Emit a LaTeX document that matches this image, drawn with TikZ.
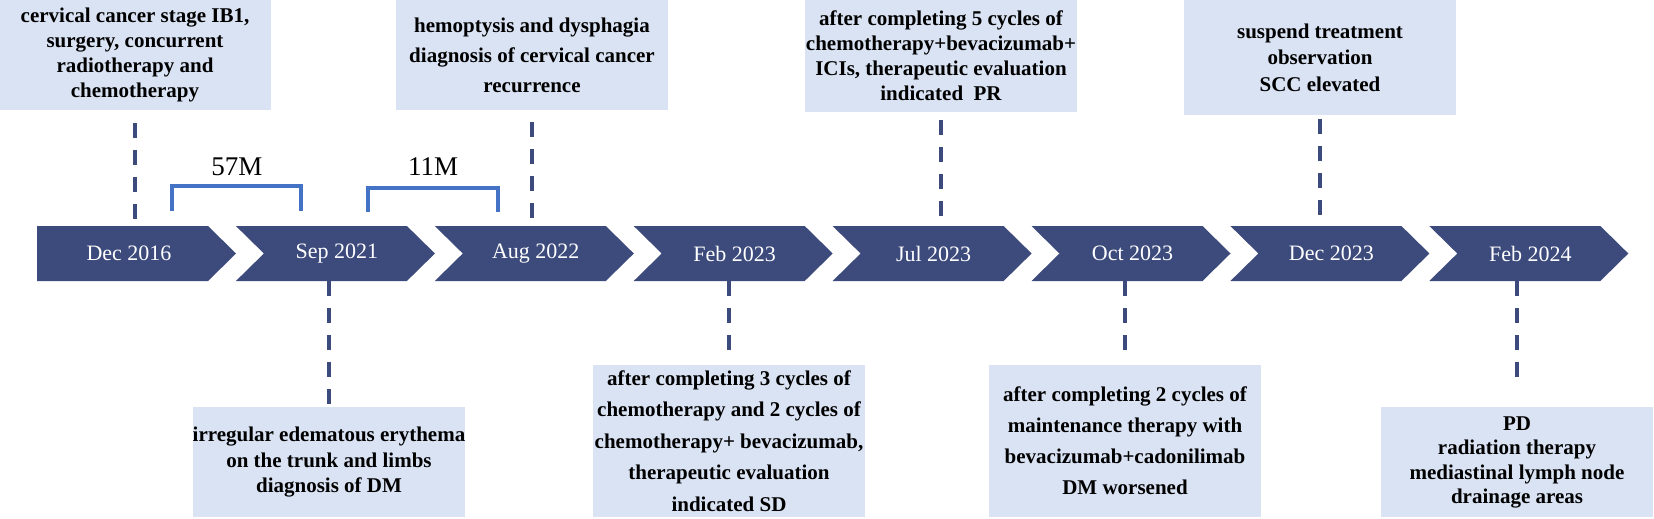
\documentclass[tikz,border=0pt]{standalone}
\usepackage{fontspec}
\setmainfont{Liberation Serif}
\definecolor{navy}{HTML}{3C4A7C}
\definecolor{boxblue}{HTML}{DAE3F3}
\definecolor{brk}{HTML}{4472C4}
\begin{document}
\begin{tikzpicture}[x=1pt,y=-1pt,
  evbox/.style={fill=boxblue, draw=none, minimum width=272pt, inner sep=0pt, align=center,
    font=\bfseries\fontsize{21}{#1}\selectfont, anchor=north},
  datelabel/.style={text=white, font=\fontsize{22}{26}\selectfont, minimum height=55pt, inner sep=0pt},
  dashline/.style={draw=navy, line width=4pt, dash pattern=on 15pt off 12pt},
  bracketline/.style={draw=brk, line width=4pt},
  gaplabel/.style={font=\fontsize{27}{30}\selectfont, inner sep=0pt}]
\useasboundingbox (0,0) rectangle (1654,519);

% timeline chevrons
\foreach \i/\d in
  {0/Dec 2016,1/Sep 2021,2/Aug 2022,3/Feb 2023,4/Jul 2023,5/Oct 2023,6/Dec 2023,7/Feb 2024}{
  \pgfmathsetmacro{\L}{37+198.9*\i}
  \ifnum\i=0
    \pgfmathsetmacro{\tx}{\L+92}
    \fill[navy] (\L,226) -- ++(171,0) -- ++(28,27.5) -- ++(-28,27.5) -- ++(-171,0) -- cycle;
  \else
    \pgfmathsetmacro{\tx}{\L+101}
    \fill[navy] (\L,226) -- ++(171,0) -- ++(28,27.5) -- ++(-28,27.5) -- ++(-171,0) -- ++(28,-27.5) -- cycle;
  \fi
  \node[datelabel] (c\i) at (\tx,253.5) {\d};
}

% event boxes (top)
\node[evbox=25, minimum height=110pt] (b1) at (135,0)
  {cervical cancer stage IB1,\\surgery, concurrent\\radiotherapy and\\chemotherapy};
\node[evbox=30, minimum height=110pt] (b2) at (532,0)
  {hemoptysis and dysphagia\\diagnosis of cervical cancer\\recurrence};
\node[evbox=25, minimum height=112pt] (b3) at (941,0)
  {after completing 5 cycles of\\chemotherapy+bevacizumab+\\ICIs, therapeutic evaluation\\indicated\ \ PR};
\node[evbox=26.5, minimum height=115pt] (b4) at (1320,0)
  {suspend treatment\\observation\\SCC elevated};

% event boxes (bottom)
\node[evbox=25.5, minimum height=110pt] (b5) at (329,407)
  {irregular edematous erythema\\on the trunk and limbs\\diagnosis of DM};
\node[evbox=31.5, minimum height=152pt] (b6) at (729,365)
  {after completing 3 cycles of\\chemotherapy and 2 cycles of\\chemotherapy+ bevacizumab,\\therapeutic evaluation\\indicated SD};
\node[evbox=31, minimum height=152pt] (b7) at (1125,365)
  {after completing 2 cycles of\\maintenance therapy with\\bevacizumab+cadonilimab\\DM worsened};
\node[evbox=24.5, minimum height=110pt] (b8) at (1517,407)
  {PD\\radiation therapy\\mediastinal lymph node\\drainage areas};

% dashed connectors
\draw[dashline] ([yshift=-13pt]b1.south) -- (b1.south |- c0.north);
\draw[dashline] ([yshift=-12pt]b2.south) -- (b2.south |- c2.north);
\draw[dashline] ([yshift=-8pt]b3.south) -- (b3.south |- c4.north);
\draw[dashline] ([yshift=-4pt]b4.south) -- (b4.south |- c6.north);
\draw[dashline] (b5.north |- c1.south) -- ([yshift=2pt]b5.north);
\draw[dashline] (b6.north |- c3.south) -- ([yshift=6pt]b6.north);
\draw[dashline] (b7.north |- c5.south) -- ([yshift=6pt]b7.north);
\draw[dashline] (b8.north |- c7.south) -- ([yshift=18pt]b8.north);

% interval brackets
\node[gaplabel] (m1) at (237,167) {57M};
\node[gaplabel] (m2) at (433,167) {11M};
\coordinate (g1a) at (172,211); \coordinate (g1b) at (301,211);
\coordinate (g2a) at (368,212); \coordinate (g2b) at (498,212);
\draw[bracketline] (g1a) -- ++(0,-25) -| (g1b);
\draw[bracketline] (g2a) -- ++(0,-24) -| (g2b);
\end{tikzpicture}
\end{document}
